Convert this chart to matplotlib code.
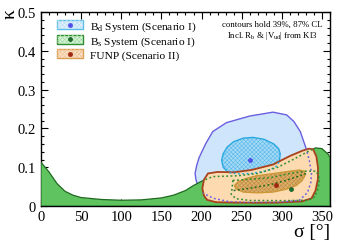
import matplotlib
matplotlib.use("Agg")
import matplotlib.pyplot as plt
from matplotlib.patches import Polygon, Patch
from matplotlib.lines import Line2D
from matplotlib.ticker import MultipleLocator

plt.rcParams['font.family'] = ['Liberation Serif', 'DejaVu Serif']
plt.rcParams['mathtext.fontset'] = 'custom'
plt.rcParams['mathtext.rm'] = 'Liberation Serif'
plt.rcParams['mathtext.it'] = 'Liberation Serif:italic'
plt.rcParams['hatch.linewidth'] = 0.4

# ---- data (sigma in degrees, kappa) ----
bs_outer_sigma = [0, 10, 20, 30, 40, 50, 75, 100, 125, 150, 165, 180, 190, 200, 214, 245,
                  270, 295, 315, 332, 342, 350, 358, 360, 360, 0]
bs_outer_kappa = [0.113, 0.088, 0.058, 0.038, 0.028, 0.022, 0.017, 0.015, 0.016, 0.021, 0.028,
                  0.040, 0.053, 0.064, 0.076, 0.078, 0.084, 0.100, 0.121, 0.140, 0.150, 0.148,
                  0.133, 0.125, 0.0, 0.0]

bs_inner_sigma = [239, 260, 285, 310, 330, 343, 347, 345, 341, 333, 300, 260, 243, 237, 238, 239]
bs_inner_kappa = [0.066, 0.069, 0.073, 0.084, 0.090, 0.090, 0.070, 0.045, 0.024, 0.015, 0.014,
                  0.0145, 0.019, 0.030, 0.045, 0.066]

bs_mid_sigma = [240, 260, 285, 305, 325, 333]
bs_mid_kappa = [0.040, 0.046, 0.055, 0.066, 0.080, 0.086]

bd_outer_sigma = [192, 194, 197, 205, 214, 231, 260, 289, 306, 315, 323, 330, 334, 337, 336,
                  332, 322, 300, 260, 235, 215, 202, 196, 193]
bd_outer_kappa = [0.085, 0.105, 0.125, 0.160, 0.192, 0.215, 0.232, 0.242, 0.235, 0.218, 0.192,
                  0.150, 0.120, 0.085, 0.060, 0.035, 0.015, 0.010, 0.009, 0.011, 0.020, 0.033,
                  0.050, 0.068]

bd_inner_sigma = [225, 227, 232, 240, 252, 264, 278, 290, 296, 298, 297, 292, 280, 262, 245,
                  233, 227]
bd_inner_kappa = [0.118, 0.135, 0.152, 0.166, 0.175, 0.177, 0.172, 0.160, 0.148, 0.135, 0.115,
                  0.100, 0.090, 0.084, 0.083, 0.087, 0.100]

funp_outer_sigma = [201, 203, 208, 220, 240, 262, 289, 310, 326, 334, 339, 343, 345, 345, 342,
                    337, 325, 295, 268, 240, 218, 207, 203]
funp_outer_kappa = [0.045, 0.068, 0.084, 0.088, 0.087, 0.093, 0.107, 0.129, 0.143, 0.148, 0.146,
                    0.128, 0.100, 0.070, 0.040, 0.020, 0.012, 0.009, 0.0085, 0.009, 0.010, 0.016,
                    0.027]

funp_inner_sigma = [241, 245, 255, 268, 290, 310, 322, 328, 329, 325, 318, 305, 289, 270, 252,
                    243]
funp_inner_kappa = [0.053, 0.062, 0.071, 0.078, 0.084, 0.090, 0.093, 0.090, 0.079, 0.065, 0.053,
                    0.043, 0.036, 0.034, 0.036, 0.044]

bd_best = (260, 0.120)
bs_best = (311, 0.043)
funp_best = (293, 0.055)

legend_labels = [r"B$_{\rm d}$ System (Scenario I)", r"B$_{\rm s}$ System (Scenario I)",
                 "FUNP (Scenario II)"]
xticks = [0, 50, 100, 150, 200, 250, 300, 350]
yticks = [0, 0.1, 0.2, 0.3, 0.4, 0.5]
ytick_labels = ["0", "0.1", "0.2", "0.3", "0.4", "0.5"]

# ---- colours ----
bd_fill, bd_edge = '#cfe5fb', '#6a5fe0'
bdi_fill, bdi_hatch, bdi_edge = '#a6daf5', '#5ab8ea', '#2aa8e0'
bs_fill, bs_edge = '#5fc35f', '#1f6b1f'
fu_fill, fu_edge = '#fddab0', '#a8421c'
fui_fill, fui_hatch, fui_edge = '#dcae6c', '#bf8a3c', '#cc9633'
dot_green = '#2e8b2e'

fig = plt.figure(figsize=(3.47, 2.51), dpi=100)
ax = fig.add_axes([0.118, 0.175, 0.833, 0.773])


def poly(xs, ys, **kw):
    p = Polygon(list(zip(xs, ys)), closed=True, **kw)
    ax.add_patch(p)
    return p


def hatched(xs, ys, fill, hcol, edge, lw, z):
    poly(xs, ys, facecolor=fill, edgecolor='none', zorder=z)
    poly(xs, ys, facecolor='none', edgecolor=hcol, hatch='xxxxxxxx', lw=0, zorder=z + 0.1)
    poly(xs, ys, facecolor='none', edgecolor=edge, lw=lw, zorder=z + 0.2)


# Bd system
poly(bd_outer_sigma, bd_outer_kappa, facecolor=bd_fill, edgecolor=bd_edge, lw=1.0, zorder=1)
hatched(bd_inner_sigma, bd_inner_kappa, bdi_fill, bdi_hatch, bdi_edge, 1.0, 2)
# Bs system
poly(bs_outer_sigma, bs_outer_kappa, facecolor=bs_fill, edgecolor=bs_edge, lw=0.9, zorder=3)
# FUNP
poly(funp_outer_sigma, funp_outer_kappa, facecolor=fu_fill, edgecolor=fu_edge, lw=1.3, zorder=4)
hatched(funp_inner_sigma, funp_inner_kappa, fui_fill, fui_hatch, fui_edge, 0.9, 5)

# hidden contours drawn dotted on top, within the FUNP region
clip = Polygon(list(zip(funp_outer_sigma, funp_outer_kappa)), closed=True,
               transform=ax.transData)
dots = (0, (1.2, 1.6))
for xs, ys, c, closed in [(bd_outer_sigma, bd_outer_kappa, bd_edge, True),
                          (bd_inner_sigma, bd_inner_kappa, bdi_edge, True),
                          (bs_outer_sigma[13:22], bs_outer_kappa[13:22], dot_green, False)]:
    xx = list(xs) + ([xs[0]] if closed else [])
    yy = list(ys) + ([ys[0]] if closed else [])
    ln, = ax.plot(xx, yy, ls=dots, color=c, lw=1.1, zorder=6)
    ln.set_clip_path(clip)
ax.plot(bs_inner_sigma, bs_inner_kappa, ls=dots, color=dot_green, lw=1.1, zorder=6)
ax.plot(bs_mid_sigma, bs_mid_kappa, ls=dots, color='#1f6b1f', lw=1.1, zorder=6)

# best-fit points
ax.plot(*bd_best, 'o', color='#5050e8', ms=2.5, zorder=7)
ax.plot(*bs_best, 'o', color='#1f6b2e', ms=2.5, zorder=7)
ax.plot(*funp_best, 'o', color='#a02a10', ms=2.5, zorder=7)

# axes
ax.set_xlim(0, 360)
ax.set_ylim(0, 0.5)
ax.set_xticks(xticks)
ax.set_xticklabels([str(v) for v in xticks])
ax.set_yticks(yticks)
ax.set_yticklabels(ytick_labels)
ax.xaxis.set_minor_locator(MultipleLocator(10))
ax.yaxis.set_minor_locator(MultipleLocator(0.02))
ax.tick_params(which='both', direction='in', top=True, right=True, labelsize=10.5, width=0.8)
ax.tick_params(which='major', length=5)
ax.tick_params(which='minor', length=2.5)
ax.tick_params(axis='x', pad=3)
for s in ax.spines.values():
    s.set_linewidth(1.0)

ax.set_xlabel("σ [°]", fontsize=14, loc='right', labelpad=0)
fig.text(10 / 347, 1 - 14 / 251, "κ", rotation=90, ha='center', va='center', fontsize=14)


# legend
def leg_handle(fill, edge, hatch_col, dot_col):
    return (Patch(facecolor=fill, edgecolor=edge, lw=1.0),
            Patch(facecolor='none', edgecolor=hatch_col, hatch='xxxxxxxx', lw=0),
            Line2D([], [], marker='o', ls='none', color=dot_col, ms=2.5))


h_bd = leg_handle('#e2f1fd', '#5bbde8', '#b5def6', '#5050e8')
h_bs = leg_handle('#d9f4d9', '#2e8b2e', '#9ad89a', '#1f6b2e')
h_fu = leg_handle('#fbe2c6', '#d8a050', '#eec095', '#a02a10')
leg = ax.legend([h_bd, h_bs, h_fu], legend_labels, loc='upper left',
                bbox_to_anchor=(0.055, 0.962), frameon=False, fontsize=8.2,
                handlelength=2.3, handleheight=0.8, labelspacing=0.13,
                handletextpad=0.6, borderaxespad=0.0, borderpad=0.0)
leg.set_zorder(10)

ax.text(0.80, 0.938, "contours hold 39%, 87% CL", transform=ax.transAxes, ha='center',
        va='center', fontsize=6.3)
ax.text(0.80, 0.881, r"Incl. R$_{\rm b}$ & |V$_{\rm ud}$| from Kl3", transform=ax.transAxes,
        ha='center', va='center', fontsize=6.3)

fig.savefig("out.png", dpi=100)
